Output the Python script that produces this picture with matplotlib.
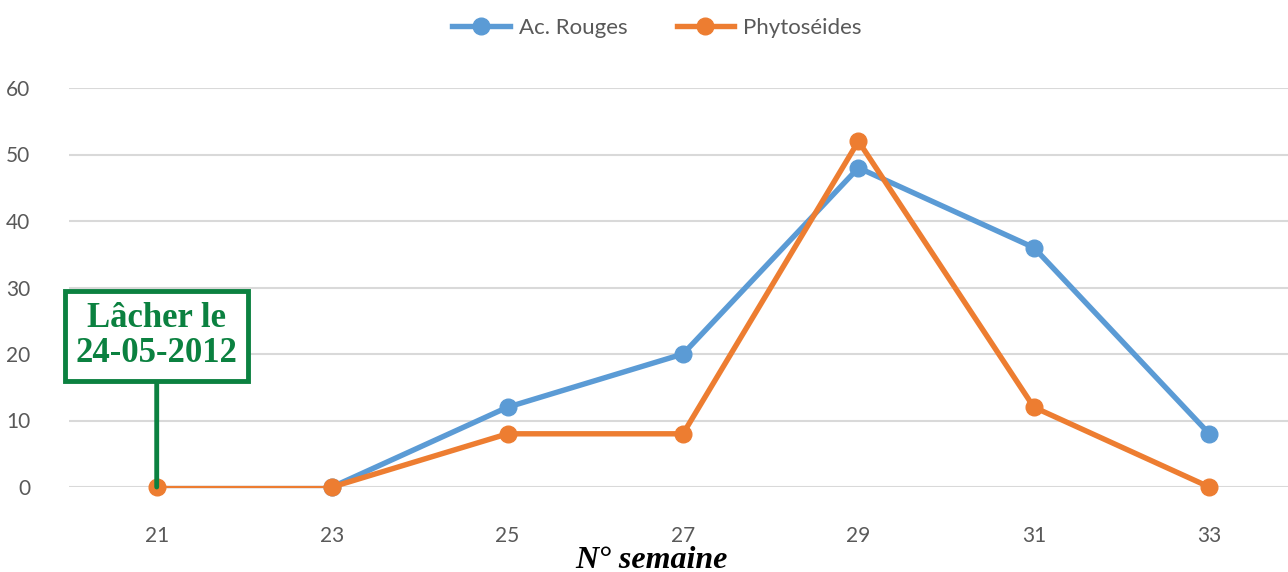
import matplotlib.pyplot as plt

# Data
weeks = ["21", "23", "25", "27", "29", "31", "33"]
ac_rouges = [0, 0, 12, 20, 48, 36, 8]
phytoseides = [0, 0, 8, 8, 52, 12, 0]
y_ticks = [0, 10, 20, 30, 40, 50, 60]

blue = "#5B9BD5"
orange = "#ED7D31"
green = "#0B8140"
grey_txt = "#595959"

fig = plt.figure(figsize=(12.88, 5.72), dpi=100)
ax = fig.add_axes([69 / 1288, 1 - 487 / 572, (1297 - 69) / 1288, (487 - 88) / 572])

x = list(range(len(weeks)))
# first segment (21 -> 23) is drawn thinner in the original
ax.plot(x[:2], ac_rouges[:2], color=blue, lw=1.6, zorder=3, clip_on=False)
ax.plot(x[:2], phytoseides[:2], color=orange, lw=1.6, zorder=4, clip_on=False)
ax.plot(x[1:], ac_rouges[1:], color=blue, lw=3.9, marker="o", ms=12, label="Ac. Rouges",
        zorder=3, clip_on=False)
ax.plot(x[1:], phytoseides[1:], color=orange, lw=3.9, marker="o", ms=12, label="Phytoséides",
        zorder=4, clip_on=False)
ax.plot(x[:1], phytoseides[:1], color=orange, lw=0, marker="o", ms=12, zorder=4, clip_on=False)

ax.set_xlim(-0.5, len(weeks) - 0.5)
ax.set_ylim(0, 60)
ax.set_xticks(x)
ax.set_xticklabels(weeks)
ax.set_yticks(y_ticks)
ax.grid(axis="y", color="#D9D9D9", lw=1.5)
ax.set_axisbelow(True)
for s in ax.spines.values():
    s.set_visible(False)
ax.tick_params(axis="both", length=0, labelsize=15, labelcolor=grey_txt)
ax.tick_params(axis="x", pad=28)
ax.tick_params(axis="y", pad=28)
for lbl in ax.get_xticklabels() + ax.get_yticklabels():
    lbl.set_fontfamily("Lato")

leg = fig.legend(loc="center", bbox_to_anchor=(657 / 1288, 1 - 28 / 572), ncol=2,
                 frameon=False, prop={"family": "Lato", "size": 16},
                 handlelength=2.6, columnspacing=2.2, handletextpad=0.4)
for t in leg.get_texts():
    t.set_color(grey_txt)

# release annotation
ax.annotate("Lâcher le\n24-05-2012", xy=(0, 0), xytext=(0, 22.7),
            ha="center", va="center", color=green, fontsize=25, fontweight="bold",
            family="Liberation Serif", linespacing=1.1,
            bbox=dict(boxstyle="square,pad=0.3", fc="white", ec=green, lw=3.5),
            arrowprops=dict(arrowstyle="-", color=green, lw=3.5, shrinkA=0, shrinkB=0),
            zorder=6)

fig.text(651 / 1288, 1 - 560 / 572, "N° semaine", ha="center", va="center",
         fontsize=23, style="italic", fontweight="bold", family="Liberation Serif")

fig.savefig("out.png", dpi=100)
